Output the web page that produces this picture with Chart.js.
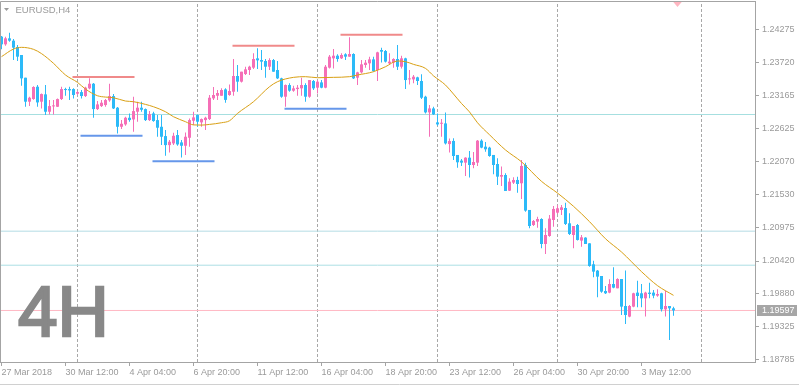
<!DOCTYPE html>
<html>
<head>
<meta charset="utf-8">
<script src="https://cdn.jsdelivr.net/npm/chart.js@4.4.1/dist/chart.umd.min.js"></script>
<style>
  html, body { margin: 0; padding: 0; background: #fff; }
  canvas { display: block; }
</style>
</head>
<body>
<canvas id="myChart" width="799" height="386"></canvas>
<script>
// EURUSD H4 candles, oldest first (one entry per 4h bar)
const opens = [
  1.24152,1.24024,1.24124,1.24085,1.23980,1.23847,1.23469,1.23070,1.23114,1.23319,
  1.23070,1.23192,1.22903,1.22992,1.22986,1.23114,1.23280,1.23280,1.23280,1.23203,
  1.23230,1.23164,1.23292,1.23369,1.22947,1.22997,1.23014,1.23092,1.23164,1.22970,
  1.22653,1.22692,1.22803,1.22775,1.22903,1.22970,1.22947,1.22764,1.22875,1.22764,
  1.22653,1.22498,1.22348,1.22376,1.22515,1.22393,1.22337,1.22470,1.22753,1.22848,
  1.22726,1.22764,1.22781,1.23125,1.23169,1.23169,1.23275,1.23181,1.23236,1.23497,
  1.23403,1.23530,1.23597,1.23636,1.23791,1.23763,1.23747,1.23652,1.23763,1.23597,
  1.23458,1.23153,1.23347,1.23253,1.23280,1.23292,1.23347,1.23153,1.23414,1.23303,
  1.23391,1.23303,1.23636,1.23791,1.23835,1.23791,1.23858,1.23819,1.23863,1.23469,
  1.23558,1.23680,1.23708,1.23774,1.23597,1.23930,1.23913,1.23708,1.23719,1.23780,
  1.23652,1.23791,1.23441,1.23441,1.23475,1.23414,1.23153,1.22892,1.22958,1.22726,
  1.22703,1.22709,1.22365,1.22417,1.22184,1.22090,1.22056,1.22139,1.22017,1.22056,
  1.22422,1.22322,1.22306,1.22184,1.22034,1.21823,1.21851,1.21590,1.21724,1.21768,
  1.21713,1.22017,1.21269,1.21019,1.21075,1.21119,1.20703,1.20836,1.21102,1.21224,
  1.21269,1.21302,1.21047,1.20853,1.21019,1.20759,1.20809,1.20714,1.20365,1.20260,
  1.20171,1.19921,1.19894,1.20038,1.19966,1.20121,1.19672,1.19495,1.19661,1.19894,
  1.19883,1.19799,1.19894,1.19894,1.19844,1.19883,1.19616,1.19672,1.19633
];
const highs = [
  1.24163,1.24152,1.24218,1.24113,1.24013,1.23847,1.23469,1.23153,1.23325,1.23347,
  1.23208,1.23347,1.23097,1.23097,1.23125,1.23319,1.23303,1.23319,1.23292,1.23247,
  1.23264,1.23319,1.23458,1.23380,1.23081,1.23097,1.23114,1.23369,1.23197,1.22981,
  1.22764,1.22820,1.22875,1.23153,1.23070,1.23070,1.22958,1.22914,1.22903,1.22848,
  1.22848,1.22598,1.22431,1.22553,1.22598,1.22431,1.22559,1.22792,1.22903,1.22859,
  1.22792,1.22820,1.23181,1.23314,1.23264,1.23292,1.23292,1.23358,1.23780,1.23680,
  1.23569,1.23652,1.23669,1.23874,1.23958,1.23930,1.23780,1.23791,1.23780,1.23747,
  1.23469,1.23358,1.23375,1.23336,1.23347,1.23469,1.23375,1.23430,1.23430,1.23430,
  1.23430,1.23680,1.23847,1.23946,1.23858,1.23874,1.23874,1.24141,1.23874,1.23569,
  1.23763,1.23763,1.23819,1.23819,1.23902,1.23969,1.23930,1.23874,1.23791,1.24013,
  1.23835,1.23802,1.23597,1.23514,1.23486,1.23525,1.23169,1.23014,1.22986,1.22875,
  1.22781,1.22892,1.22459,1.22461,1.22184,1.22117,1.22145,1.22250,1.22234,1.22433,
  1.22444,1.22400,1.22322,1.22184,1.22128,1.21990,1.21879,1.21796,1.21812,1.21823,
  1.22101,1.22056,1.21269,1.21102,1.21158,1.21130,1.20963,1.21186,1.21335,1.21352,
  1.21352,1.21391,1.21213,1.21002,1.21036,1.20853,1.20814,1.20714,1.20426,1.20271,
  1.20171,1.20005,1.20116,1.20315,1.20132,1.20121,1.20260,1.19689,1.19894,1.20093,
  1.20038,1.19910,1.20060,1.19938,1.19949,1.19894,1.19927,1.19672,1.19661
];
const lows = [
  1.23941,1.24002,1.24069,1.23763,1.23747,1.23336,1.22986,1.22997,1.23103,1.22986,
  1.22958,1.22848,1.22859,1.22859,1.22981,1.23097,1.23169,1.23097,1.23125,1.23181,
  1.23125,1.23147,1.23275,1.22803,1.22931,1.22981,1.22986,1.23070,1.22947,1.22542,
  1.22614,1.22670,1.22737,1.22570,1.22737,1.22903,1.22748,1.22748,1.22737,1.22487,
  1.22348,1.22170,1.22226,1.22348,1.22337,1.22143,1.22182,1.22320,1.22681,1.22653,
  1.22653,1.22598,1.22764,1.23097,1.23097,1.23169,1.23053,1.23169,1.23169,1.23236,
  1.23391,1.23514,1.23514,1.23613,1.23613,1.23597,1.23469,1.23597,1.23569,1.23447,
  1.23136,1.22986,1.23236,1.23236,1.23169,1.23169,1.23070,1.23136,1.23264,1.23208,
  1.23292,1.23292,1.23624,1.23624,1.23736,1.23780,1.23763,1.23819,1.23447,1.23347,
  1.23541,1.23636,1.23597,1.23569,1.23414,1.23724,1.23724,1.23691,1.23636,1.23597,
  1.23624,1.23280,1.23358,1.23375,1.23347,1.23114,1.22875,1.22487,1.22848,1.22670,
  1.22487,1.22359,1.22226,1.22101,1.21973,1.22001,1.21834,1.21807,1.21962,1.22001,
  1.22295,1.22239,1.22156,1.21862,1.21685,1.21668,1.21585,1.21585,1.21701,1.21557,
  1.21452,1.21241,1.20963,1.21002,1.20975,1.20631,1.20537,1.20825,1.20991,1.21202,
  1.21186,1.21019,1.20853,1.20631,1.20759,1.20659,1.20703,1.20326,1.20149,1.19816,
  1.19894,1.19871,1.19883,1.19966,1.19966,1.19522,1.19373,1.19484,1.19650,1.19650,
  1.19650,1.19495,1.19799,1.19799,1.19827,1.19578,1.19495,1.19106,1.19511
];
const closes = [
  1.24024,1.24124,1.24085,1.23969,1.23819,1.23458,1.23070,1.23136,1.23314,1.23058,
  1.23197,1.22903,1.22997,1.23003,1.23114,1.23280,1.23264,1.23258,1.23181,1.23230,
  1.23164,1.23303,1.23369,1.22947,1.23025,1.23053,1.23097,1.23164,1.22958,1.22653,
  1.22703,1.22803,1.22764,1.22914,1.22970,1.22936,1.22764,1.22864,1.22748,1.22637,
  1.22487,1.22348,1.22404,1.22503,1.22359,1.22337,1.22487,1.22764,1.22809,1.22737,
  1.22781,1.22803,1.23136,1.23181,1.23214,1.23264,1.23100,1.23247,1.23497,1.23403,
  1.23569,1.23608,1.23652,1.23780,1.23758,1.23736,1.23652,1.23763,1.23569,1.23458,
  1.23153,1.23347,1.23253,1.23292,1.23303,1.23347,1.23153,1.23430,1.23292,1.23403,
  1.23303,1.23652,1.23819,1.23835,1.23780,1.23847,1.23819,1.23863,1.23458,1.23558,
  1.23691,1.23719,1.23774,1.23580,1.23891,1.23902,1.23736,1.23736,1.23780,1.23652,
  1.23791,1.23430,1.23458,1.23486,1.23414,1.23136,1.22892,1.22958,1.22859,1.22692,
  1.22720,1.22376,1.22415,1.22167,1.22062,1.22056,1.22139,1.22017,1.22067,1.22422,
  1.22306,1.22278,1.22167,1.22017,1.21823,1.21851,1.21585,1.21740,1.21768,1.21701,
  1.22001,1.21258,1.21002,1.21086,1.21119,1.20703,1.20853,1.21125,1.21286,1.21297,
  1.21313,1.21036,1.20869,1.21002,1.20770,1.20814,1.20703,1.20337,1.20243,1.20160,
  1.19910,1.19883,1.20038,1.19977,1.20121,1.19661,1.19522,1.19672,1.19883,1.19838,
  1.19799,1.19894,1.19871,1.19844,1.19871,1.19616,1.19672,1.19633,1.19597
];

// moving average at these bars
const maBars = [0,3,5,8,10,13,16,19,21,24,26,28,31,33,36,38,41,43,46,48,50,52,55,57,59,
  63,67,69,73,76,79,83,87,89,93,96,99,101,103,106,108,111,113,115,117,119,122,126,130,135,
  139,143,147,151,155,160,164,168];
const maValues = [1.23819,1.23946,1.23974,1.23941,1.23870,1.23708,1.23514,1.23391,1.23280,1.23169,
  1.23147,1.23136,1.23081,1.23070,1.23025,1.22986,1.22903,1.22820,1.22737,1.22684,
  1.22681,1.22692,1.22720,1.22753,1.22875,1.23070,1.23319,1.23403,1.23475,1.23486,
  1.23469,1.23475,1.23486,1.23514,1.23569,1.23652,1.23747,1.23736,1.23691,1.23624,
  1.23500,1.23347,1.23197,1.23040,1.22900,1.22720,1.22520,1.22267,1.22070,1.21745,
  1.21550,1.21330,1.21075,1.20790,1.20570,1.20243,1.20010,1.19849];

// time axis: one label every 16 bars
const timeLabels = ['27 Mar 2018', '30 Mar 12:00', '4 Apr 04:00', '6 Apr 20:00', '11 Apr 12:00',
  '16 Apr 04:00', '18 Apr 20:00', '23 Apr 12:00', '26 Apr 04:00', '30 Apr 20:00', '3 May 12:00'];
const labelEvery = 16;

// price axis
const priceTicks = [1.24275, 1.23720, 1.23165, 1.22625, 1.22070, 1.21530, 1.20975, 1.20420, 1.19880, 1.19325, 1.18785];
const priceMin = 1.18740;
const priceMax = 1.24745;
const lastPrice = 1.19597;

// week separators (bar index of Monday 00:00)
const weekSeparators = [19, 49, 79, 109, 139, 175];

// horizontal levels across the whole chart
const levelLines = [1.22857, 1.20916, 1.20350];

// short zones: [from bar, to bar, price]
const resistanceZones = [[17.75, 33.25, 1.23481], [57.75, 73.25, 1.24002], [84.75, 100.25, 1.24183]];
const supportZones = [[19.75, 35.25, 1.22503], [37.75, 53.25, 1.22080], [70.75, 86.25, 1.22952]];

const barMin = -0.375;
const barMax = 188.375;

const bullColor = '#f56fb7';
const bearColor = '#2cbaf8';
const axisColor = '#a4a4a4';
const textColor = '#9a9a9a';
const fontFamily = '"Liberation Sans", Arial, sans-serif';

const candleColors = closes.map((c, i) => (c >= opens[i] ? bullColor : bearColor));
const wickData = closes.map((c, i) => ({ x: i, y: [lows[i], highs[i]] }));
const bodyData = closes.map((c, i) => ({ x: i, y: [opens[i], c] }));
const maData = maBars.map((b, k) => ({ x: b, y: maValues[k] }));

const segment = (color, width, pts, dash) => ({
    type: 'line',
    data: pts,
    borderColor: color,
    borderWidth: width,
    borderDash: dash || [],
    pointRadius: 0,
    fill: false,
    tension: 0
});

const datasets = [
    {
        type: 'line',
        label: 'MA',
        data: maData,
        borderColor: '#d9a014',
        borderWidth: 1,
        pointRadius: 0,
        fill: false,
        cubicInterpolationMode: 'monotone'
    },
    {
        type: 'bar',
        label: 'body',
        data: bodyData,
        backgroundColor: candleColors,
        borderWidth: 0,
        barThickness: 3,
        grouped: false,
        minBarLength: 1,
        inflateAmount: 0
    },
    {
        type: 'bar',
        label: 'wick',
        data: wickData,
        backgroundColor: candleColors,
        borderWidth: 0,
        barThickness: 1,
        grouped: false,
        inflateAmount: 0
    }
];

resistanceZones.forEach(z => datasets.push(segment('#f08a8a', 2, [{ x: z[0], y: z[2] }, { x: z[1], y: z[2] }])));
supportZones.forEach(z => datasets.push(segment('#6697ea', 2, [{ x: z[0], y: z[2] }, { x: z[1], y: z[2] }])));
datasets.push(segment('#ffb9c4', 1, [{ x: barMin, y: lastPrice }, { x: barMax, y: lastPrice }]));
datasets.push(segment('#a6dfe0', 1, [{ x: barMin, y: levelLines[0] }, { x: barMax, y: levelLines[0] }]));
datasets.push(segment('#b4dce4', 1, [{ x: barMin, y: levelLines[1] }, { x: barMax, y: levelLines[1] }]));
datasets.push(segment('#acdfe4', 1, [{ x: barMin, y: levelLines[2] }, { x: barMax, y: levelLines[2] }]));
weekSeparators.forEach(b => datasets.push(segment('#a8a8a8', 1, [{ x: b, y: priceMin }, { x: b, y: priceMax }], [3, 2])));

// captions, frame and last price tag
const chartDecor = {
    id: 'chartDecor',
    beforeDraw(chart) {
        const { ctx } = chart;
        ctx.save();
        ctx.fillStyle = '#ffffff';
        ctx.fillRect(0, 0, chart.width, chart.height);
        ctx.restore();
    },
    afterDatasetsDraw(chart) {
        const { ctx, chartArea: a, scales } = chart;
        ctx.save();
        ctx.fillStyle = '#888888';
        ctx.strokeStyle = '#888888';
        ctx.lineWidth = 2.5;
        ctx.lineJoin = 'miter';
        ctx.font = '71px ' + fontFamily;
        ctx.textBaseline = 'alphabetic';
        ctx.textAlign = 'left';
        ctx.fillText('4H', 18, 336);
        ctx.strokeText('4H', 18, 336);

        ctx.fillStyle = textColor;
        ctx.font = '9.5px ' + fontFamily;
        ctx.fillText('EURUSD,H4', 15.5, 13);
        ctx.beginPath();
        ctx.moveTo(4, 8);
        ctx.lineTo(9, 8);
        ctx.lineTo(6.5, 11);
        ctx.closePath();
        ctx.fill();

        const mx = scales.x.getPixelForValue(169);
        ctx.fillStyle = '#ffb6c1';
        ctx.beginPath();
        ctx.moveTo(mx - 5, a.top);
        ctx.lineTo(mx + 5, a.top);
        ctx.lineTo(mx, a.top + 6);
        ctx.closePath();
        ctx.fill();

        ctx.strokeStyle = axisColor;
        ctx.lineWidth = 1;
        ctx.beginPath();
        ctx.moveTo(a.left + 0.5, a.bottom);
        ctx.lineTo(a.left + 0.5, a.top + 0.5);
        ctx.lineTo(a.right, a.top + 0.5);
        ctx.stroke();
        ctx.restore();
    },
    afterDraw(chart) {
        const { ctx, chartArea: a, scales } = chart;
        const y = Math.round(scales.y.getPixelForValue(lastPrice));
        ctx.save();
        ctx.fillStyle = '#a6a6a6';
        ctx.fillRect(a.right + 2, y - 5, 40, 11);
        ctx.fillStyle = '#ffffff';
        ctx.font = '9px ' + fontFamily;
        ctx.textBaseline = 'middle';
        ctx.fillText(lastPrice.toFixed(5), a.right + 7, y + 0.5);
        ctx.strokeStyle = '#d0d0d0';
        ctx.beginPath();
        ctx.moveTo(0, 384.5);
        ctx.lineTo(chart.width, 384.5);
        ctx.stroke();
        ctx.restore();
    }
};

const ctx = document.getElementById('myChart').getContext('2d');
const myChart = new Chart(ctx, {
    type: 'bar',
    data: { datasets },
    options: {
        responsive: false,
        animation: false,
        devicePixelRatio: 1,
        layout: { padding: { top: 1, left: 0, right: 0, bottom: 0 }, autoPadding: false },
        plugins: { legend: { display: false }, tooltip: { enabled: false } },
        scales: {
            x: {
                type: 'linear',
                min: barMin,
                max: barMax,
                offset: false,
                bounds: 'data',
                grid: { drawOnChartArea: false, tickLength: 4, color: axisColor, offset: false },
                border: { color: axisColor },
                ticks: {
                    autoSkip: false,
                    maxRotation: 0,
                    minRotation: 0,
                    align: 'start',
                    padding: 1,
                    color: textColor,
                    font: { family: fontFamily, size: 9 },
                    callback: (v) => timeLabels[Math.round(v / labelEvery)]
                },
                afterBuildTicks: (s) => { s.ticks = timeLabels.map((_, k) => ({ value: k * labelEvery })); },
                afterFit: (s) => { s.height = 24; s.paddingLeft = 0; s.paddingRight = 0; }
            },
            y: {
                position: 'right',
                min: priceMin,
                max: priceMax,
                bounds: 'data',
                grid: { drawOnChartArea: false, tickLength: 4, color: axisColor },
                border: { color: axisColor },
                ticks: {
                    padding: 3,
                    color: textColor,
                    font: { family: fontFamily, size: 9 },
                    callback: (v) => v.toFixed(5)
                },
                afterBuildTicks: (s) => { s.ticks = priceTicks.map(v => ({ value: v })); },
                afterFit: (s) => { s.width = 44; s.paddingTop = 0; s.paddingBottom = 0; }
            }
        }
    },
    plugins: [chartDecor]
});
</script>
</body>
</html>
